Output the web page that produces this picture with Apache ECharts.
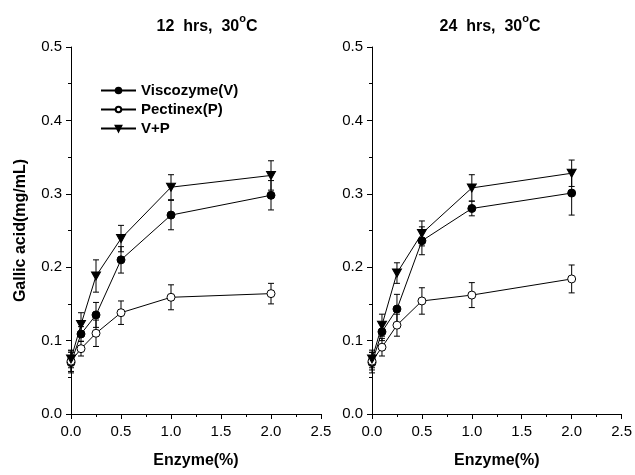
<!DOCTYPE html>
<html>
<head>
<meta charset="utf-8">
<script src="https://cdn.jsdelivr.net/npm/echarts@6/dist/echarts.min.js"></script>
<style>
  html, body { margin: 0; padding: 0; background: #fff; }
  #chart { width: 635px; height: 475px; }
</style>
</head>
<body>
<div id="chart"></div>
<script>
// enzyme dose (%)
let doses = [0, 0.1, 0.25, 0.5, 1.0, 2.0];

// 12 hrs, 30C
let visc12 = [0.070, 0.109, 0.135, 0.210, 0.271, 0.298];
let viscErr12 = [0.014, 0.010, 0.017, 0.018, 0.020, 0.020];
let pect12 = [0.072, 0.089, 0.110, 0.138, 0.159, 0.164];
let pectErr12 = [0.014, 0.010, 0.018, 0.016, 0.017, 0.014];
let vp12 = [0.075, 0.122, 0.188, 0.239, 0.309, 0.325];
let vpErr12 = [0.012, 0.016, 0.022, 0.018, 0.017, 0.020];

// 24 hrs, 30C
let visc24 = [0.070, 0.112, 0.143, 0.236, 0.280, 0.301];
let viscErr24 = [0.014, 0.012, 0.020, 0.019, 0.010, 0.030];
let pect24 = [0.072, 0.091, 0.121, 0.154, 0.162, 0.184];
let pectErr24 = [0.012, 0.012, 0.015, 0.018, 0.017, 0.019];
let vp24 = [0.075, 0.121, 0.192, 0.246, 0.308, 0.328];
let vpErr24 = [0.012, 0.015, 0.014, 0.017, 0.018, 0.018];

let seriesNames = ['Viscozyme(V)', 'Pectinex(P)', 'V+P'];

let font = 'Liberation Sans, Arial, sans-serif';

function pairs(vals) {
	return doses.map(function (d, i) { return [d, vals[i]]; });
}

function errRows(vals, errs) {
	return doses.map(function (d, i) { return [d, vals[i] - errs[i], vals[i] + errs[i]]; });
}

function renderErr(params, api) {
	let lo = api.coord([api.value(0), api.value(1)]);
	let hi = api.coord([api.value(0), api.value(2)]);
	let cap = 3;
	let st = { stroke: '#000', lineWidth: 1 };
	return {
		type: 'group',
		children: [
			{ type: 'line', shape: { x1: lo[0], y1: lo[1], x2: hi[0], y2: hi[1] }, style: st },
			{ type: 'line', shape: { x1: lo[0] - cap, y1: lo[1], x2: lo[0] + cap, y2: lo[1] }, style: st },
			{ type: 'line', shape: { x1: hi[0] - cap, y1: hi[1], x2: hi[0] + cap, y2: hi[1] }, style: st }
		]
	};
}

function errSeries(idx, vals, errs) {
	return {
		type: 'custom',
		xAxisIndex: idx,
		yAxisIndex: idx,
		renderItem: renderErr,
		data: errRows(vals, errs),
		z: 1,
		silent: true
	};
}

function lineSeries(idx, name, vals) {
	let s = {
		type: 'line',
		name: name,
		xAxisIndex: idx,
		yAxisIndex: idx,
		data: pairs(vals),
		symbolSize: 8,
		lineStyle: { color: '#000', width: 1 },
		z: 3
	};
	if (name === 'Viscozyme(V)') {
		s.symbol = 'circle';
		s.itemStyle = { color: '#000', borderColor: '#000', borderWidth: 1 };
	} else if (name === 'Pectinex(P)') {
		s.symbol = 'circle';
		s.itemStyle = { color: '#fff', borderColor: '#000', borderWidth: 1 };
	} else {
		s.symbol = 'triangle';
		s.symbolRotate = 180;
		s.symbolSize = [9, 8];
		s.itemStyle = { color: '#000', borderColor: '#000', borderWidth: 1 };
	}
	return s;
}

function xAxisCfg(idx) {
	return {
		type: 'value',
		gridIndex: idx,
		min: 0,
		max: 2.5,
		interval: 0.5,
		name: 'Enzyme(%)',
		nameLocation: 'middle',
		nameGap: 39,
		nameTextStyle: { fontFamily: font, fontSize: 16, fontWeight: 'bold', color: '#000' },
		axisLine: { lineStyle: { color: '#000', width: 1 } },
		axisTick: { inside: false, length: 5, lineStyle: { color: '#000' } },
		minorTick: { show: true, splitNumber: 2, length: 3, lineStyle: { color: '#000' } },
		axisLabel: {
			fontFamily: font, fontSize: 15, color: '#000', margin: 10,
			formatter: function (v) { return v.toFixed(1); }
		},
		splitLine: { show: false }
	};
}

function yAxisCfg(idx, withName) {
	let a = {
		type: 'value',
		gridIndex: idx,
		min: 0,
		max: 0.5,
		interval: 0.1,
		axisLine: { show: true, lineStyle: { color: '#000', width: 1 } },
		axisTick: { show: true, inside: false, length: 5, lineStyle: { color: '#000' } },
		minorTick: { show: true, splitNumber: 2, length: 3, lineStyle: { color: '#000' } },
		axisLabel: {
			fontFamily: font, fontSize: 15, color: '#000', margin: 9,
			formatter: function (v) { return v.toFixed(1); }
		},
		splitLine: { show: false }
	};
	if (withName) {
		a.name = 'Gallic acid(mg/mL)';
		a.nameLocation = 'middle';
		a.nameGap = 42;
		a.nameTextStyle = { fontFamily: font, fontSize: 16, fontWeight: 'bold', color: '#000' };
	}
	return a;
}

function titleCfg(left, hrs) {
	return {
		left: left,
		top: 8,
		textAlign: 'center',
		text: '{t|' + hrs + '  hrs,  30}{s|o}{t|C}',
		textStyle: {
			rich: {
				t: { fontFamily: font, fontSize: 16, fontWeight: 'bold', color: '#000', lineHeight: 22, verticalAlign: 'bottom' },
				s: { fontFamily: font, fontSize: 11, fontWeight: 'bold', color: '#000', lineHeight: 11, verticalAlign: 'top' }
			}
		}
	};
}

let chart = echarts.init(document.getElementById('chart'));

chart.setOption({
	animation: false,
	backgroundColor: '#fff',
	title: [titleCfg(202, 12), titleCfg(485, 24)],
	legend: {
		orient: 'vertical',
		left: 95,
		top: 78,
		itemWidth: 35,
		itemHeight: 7,
		itemGap: 4,
		data: seriesNames,
		textStyle: { fontFamily: font, fontSize: 15, fontWeight: 'bold', color: '#000' }
	},
	grid: [
		{ left: 71, right: 314, top: 47, bottom: 61 },
		{ left: 372, right: 13, top: 47, bottom: 61 }
	],
	xAxis: [xAxisCfg(0), xAxisCfg(1)],
	yAxis: [yAxisCfg(0, true), yAxisCfg(1, false)],
	series: [
		errSeries(0, visc12, viscErr12),
		errSeries(0, pect12, pectErr12),
		errSeries(0, vp12, vpErr12),
		errSeries(1, visc24, viscErr24),
		errSeries(1, pect24, pectErr24),
		errSeries(1, vp24, vpErr24),
		lineSeries(0, seriesNames[0], visc12),
		lineSeries(0, seriesNames[1], pect12),
		lineSeries(0, seriesNames[2], vp12),
		lineSeries(1, seriesNames[0], visc24),
		lineSeries(1, seriesNames[1], pect24),
		lineSeries(1, seriesNames[2], vp24)
	]
});
</script>
</body>
</html>
